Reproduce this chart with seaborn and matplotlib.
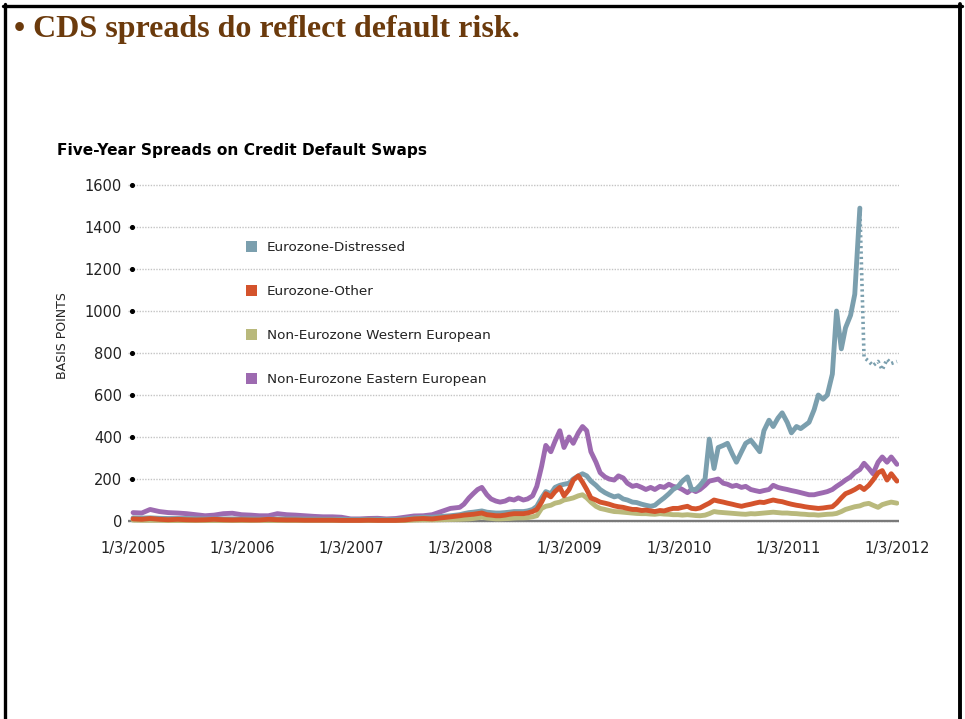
import matplotlib
matplotlib.use("Agg")
import matplotlib.pyplot as plt
import matplotlib.transforms as mtransforms
from matplotlib.patches import Patch
from matplotlib.lines import Line2D
import pandas as pd
import seaborn as sns

# ---------------- text ----------------
slide_title = "\u2022 CDS spreads do reflect default risk."
chart_title = "Five-Year Spreads on Credit Default Swaps"
y_label = "BASIS POINTS"
series_names = ["Eurozone-Distressed", "Eurozone-Other",
                "Non-Eurozone Western European", "Non-Eurozone Eastern European"]
series_colors = ["#7b9fae", "#d4532c", "#b9b97c", "#9d6ab0"]

y_ticks = [0, 200, 400, 600, 800, 1000, 1200, 1400, 1600]
x_tick_dates = ["2005-01-03", "2006-01-03", "2007-01-03", "2008-01-03",
                "2009-01-03", "2010-01-03", "2011-01-03", "2012-01-03"]
x_tick_labels = ["1/3/2005", "1/3/2006", "1/3/2007", "1/3/2008",
                 "1/3/2009", "1/3/2010", "1/3/2011", "1/3/2012"]

# sampling dates: monthly 2005-2007, semi-monthly 2008-2011, final obs
dates = (list(pd.date_range("2005-01-01", "2007-12-01", freq="MS"))
         + list(pd.date_range("2008-01-01", "2011-12-15", freq="SMS"))
         + [pd.Timestamp("2012-01-03")])
dates[0] = pd.Timestamp("2005-01-03")
revised_from = pd.Timestamp("2011-09-01")   # dotted segment of Eurozone-Distressed

# ---------------- values (basis points) ----------------
distressed = (
    [15, 14, 15, 13, 12, 12, 12, 11, 10, 10, 10, 10,
     10, 10, 9, 9, 10, 10, 10, 9, 9, 8, 8, 8,
     7, 7, 8, 8, 7, 7, 10, 15, 18, 18, 22, 25]
    + [30, 35, 40, 42, 45, 48, 42, 40, 38, 38, 40, 42, 45, 45, 45, 48, 55, 70, 110, 140, 130, 160, 170, 175]
    + [180, 200, 215, 225, 215, 190, 170, 150, 135, 125, 115, 120, 105, 100, 90, 88, 80, 75, 70, 75, 95, 110, 130, 150]
    + [165, 190, 210, 150, 150, 170, 200, 390, 250, 350, 360, 370, 320, 280, 330, 370, 385, 360, 330, 430, 480, 450, 490, 515]
    + [470, 420, 450, 440, 455, 470, 530, 600, 580, 600, 700, 1000, 820, 920, 980, 1080, 1490, 780, 760, 740, 760, 720, 770, 750]
    + [760])
other = (
    [10, 8, 12, 8, 6, 8, 6, 5, 6, 8, 6, 5,
     6, 5, 5, 8, 6, 5, 5, 4, 4, 4, 4, 3,
     3, 3, 4, 3, 3, 3, 5, 10, 12, 10, 15, 20]
    + [25, 28, 30, 32, 35, 38, 30, 28, 25, 25, 28, 32, 35, 35, 35, 38, 45, 55, 90, 130, 115, 140, 160, 120]
    + [150, 195, 215, 185, 150, 110, 100, 90, 85, 80, 72, 68, 65, 60, 55, 55, 50, 52, 48, 45, 50, 48, 55, 60]
    + [60, 65, 70, 60, 58, 62, 75, 85, 100, 95, 90, 85, 80, 75, 70, 75, 80, 85, 90, 88, 95, 100, 95, 92]
    + [85, 80, 75, 72, 68, 65, 62, 60, 62, 65, 68, 85, 110, 130, 140, 150, 165, 150, 170, 195, 230, 240, 195, 225]
    + [190])
western = (
    [4, 3, 3, 3, 2, 2, 2, 2, 2, 2, 2, 2,
     2, 2, 3, 2, 2, 2, 2, 2, 1, 1, 1, 1,
     1, 1, 1, 1, 1, 1, 2, 4, 5, 5, 6, 7]
    + [8, 9, 10, 12, 15, 18, 14, 12, 10, 10, 11, 12, 14, 15, 15, 16, 20, 25, 60, 70, 75, 85, 90, 100]
    + [105, 110, 120, 125, 110, 90, 70, 60, 55, 50, 45, 44, 42, 40, 38, 36, 35, 35, 33, 32, 35, 33, 32, 30]
    + [30, 28, 30, 28, 26, 25, 28, 35, 45, 42, 40, 38, 36, 35, 33, 32, 35, 34, 36, 38, 40, 42, 40, 38]
    + [38, 36, 35, 33, 32, 30, 30, 28, 30, 32, 33, 36, 45, 55, 62, 68, 72, 80, 84, 75, 65, 78, 85, 90]
    + [85])
eastern = (
    [40, 38, 55, 45, 40, 38, 35, 30, 25, 28, 35, 37,
     30, 28, 25, 25, 35, 30, 28, 25, 22, 20, 20, 18,
     10, 10, 12, 13, 10, 12, 18, 24, 25, 30, 45, 60]
    + [65, 80, 110, 130, 150, 160, 125, 105, 95, 90, 95, 105, 100, 110, 100, 105, 120, 165, 260, 360, 330, 380, 430, 350]
    + [400, 370, 420, 450, 430, 330, 280, 230, 210, 200, 195, 215, 205, 180, 165, 170, 160, 150, 160, 150, 165, 160, 175, 165]
    + [160, 150, 135, 150, 140, 150, 170, 190, 195, 200, 180, 175, 165, 170, 160, 165, 150, 145, 140, 145, 150, 170, 160, 155]
    + [150, 145, 140, 135, 130, 125, 125, 130, 135, 140, 150, 165, 180, 195, 210, 230, 245, 275, 250, 225, 280, 305, 280, 305]
    + [270])

df = pd.DataFrame({"date": dates,
                   series_names[0]: distressed,
                   series_names[1]: other,
                   series_names[2]: western,
                   series_names[3]: eastern})

# ---------------- style ----------------
sns.set_theme(style="white")
plt.rcParams["font.family"] = ["DejaVu Sans"]

W, H = 965, 719
fig = plt.figure(figsize=(W / 100, H / 100), dpi=100)
fig.patch.set_facecolor("white")
ax = fig.add_axes([128 / W, 1 - 523 / H, 771 / W, 343 / H])
ax.set_facecolor("none")

# draw series (order controls overlap)
lw = 3.5
solid = df[df["date"] <= revised_from]
dotted = df[df["date"] >= revised_from]
sns.lineplot(data=df, x="date", y=series_names[2], color=series_colors[2], lw=lw, ax=ax, zorder=3)
sns.lineplot(data=df, x="date", y=series_names[3], color=series_colors[3], lw=lw, ax=ax, zorder=4)
sns.lineplot(data=solid, x="date", y=series_names[0], color=series_colors[0], lw=lw, ax=ax, zorder=5)
sns.lineplot(data=dotted, x="date", y=series_names[0], color=series_colors[0], lw=2.6,
             linestyle=(0, (0.6, 0.9)), ax=ax, zorder=5)
sns.lineplot(data=df, x="date", y=series_names[1], color=series_colors[1], lw=lw, ax=ax, zorder=6)

ax.set_xlim(pd.Timestamp("2004-12-17"), pd.Timestamp("2012-01-10"))
ax.set_ylim(-9.5, 1624)
for s in ax.spines.values():
    s.set_visible(False)

ax.set_yticks(y_ticks)
ax.set_yticklabels([str(v) for v in y_ticks])
ax.set_xticks(pd.to_datetime(x_tick_dates))
ax.set_xticklabels(x_tick_labels)
ax.tick_params(axis="y", length=0, pad=4.3, labelsize=10.5, labelcolor="#222222")
ax.tick_params(axis="x", length=0, pad=13, labelsize=10.5, labelcolor="#222222")
ax.set_xlabel("")
ax.set_ylabel("")

ax.grid(axis="y", color="#c4c4c4", linestyle=(0, (1, 1)), lw=1.0, zorder=0)
ax.grid(axis="x", visible=False)
ax.axhline(0, color="#7a7a7a", lw=1.7, zorder=2)

# tick dots
trans = mtransforms.blended_transform_factory(ax.transAxes, ax.transData)
dot_vals = [v for v in y_ticks if v > 0]
ax.scatter([3.5 / 771] * len(dot_vals), dot_vals, s=7, color="black",
           transform=trans, clip_on=False, zorder=7)

# legend
handles = [Patch(facecolor=c, edgecolor="none") for c in series_colors]
ax.legend(handles, series_names, loc="upper left",
          bbox_to_anchor=(246 / W, 1 - 241 / H), bbox_transform=fig.transFigure,
          frameon=False, fontsize=9.7, handlelength=0.85, handleheight=0.85,
          handletextpad=0.7, labelspacing=2.3, borderpad=0, borderaxespad=0,
          labelcolor="#222222")

# titles / labels
fig.text(57 / W, 1 - 150 / H, chart_title, fontsize=11.1, fontweight="bold",
         ha="left", va="center", color="black")
fig.text(62 / W, 1 - 336 / H, y_label, fontsize=9, rotation=90,
         ha="center", va="center", color="#222222")
fig.text(14 / W, 1 - 37 / H, slide_title, family=["Liberation Serif", "DejaVu Serif"],
         fontsize=23, fontweight="bold", color="#6b3a0c", ha="left", va="baseline")

# slide border
fig.add_artist(Line2D([4.5 / W, 4.5 / W], [0, 1 - 4 / H], color="black", lw=2.4,
                      transform=fig.transFigure))
fig.add_artist(Line2D([3 / W, 962 / W], [1 - 5.7 / H, 1 - 5.7 / H], color="black", lw=2.4,
                      transform=fig.transFigure))
fig.add_artist(Line2D([960.3 / W, 960.3 / W], [0, 1 - 4 / H], color="black", lw=2.8,
                      transform=fig.transFigure))

fig.savefig("out.png", dpi=100)
